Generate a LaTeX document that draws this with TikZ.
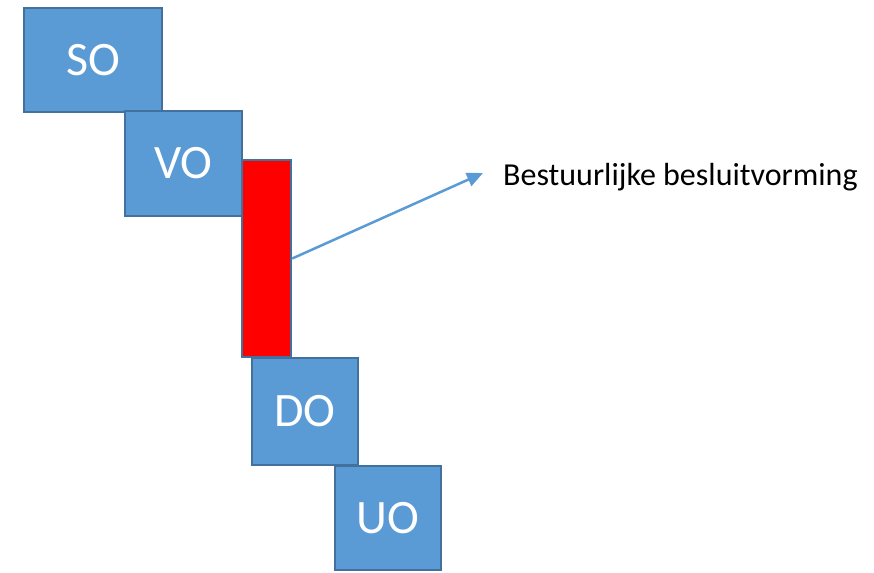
\documentclass[tikz,border=0pt]{standalone}
\usepackage{fontspec}
\setmainfont{Carlito}
\usepackage{xcolor}
\definecolor{orgBlue}{HTML}{5B9BD5}
\definecolor{orgEdge}{HTML}{41719C}
\definecolor{orgRed}{HTML}{FF0000}
\usetikzlibrary{arrows.meta}

\begin{document}
\begin{tikzpicture}[x=1pt, y=-1pt]
  \filldraw[fill=white, draw=none] (0,0) rectangle (874,572);
  \node[rectangle, draw=orgEdge, line width=2.5pt, fill=orgBlue, minimum width=138pt, minimum height=104pt, text=white, font=\fontsize{48}{54}\selectfont] (SO) at (93,60) {SO};
  \node[rectangle, draw=orgEdge, line width=2.5pt, fill=orgBlue, minimum width=117pt, minimum height=105pt, text=white, font=\fontsize{48}{54}\selectfont] (VO) at (183.5,163.5) {VO};
  \node[rectangle, draw=orgEdge, line width=2.5pt, fill=orgRed, minimum width=49pt, minimum height=197pt] (BB) at (266.5,258.5) {};
  \node[rectangle, draw=orgEdge, line width=2.5pt, fill=orgBlue, minimum width=106pt, minimum height=107pt, text=white, font=\fontsize{48}{54}\selectfont] (DO) at (305,411.5) {DO};
  \node[rectangle, draw=orgEdge, line width=2.5pt, fill=orgBlue, minimum width=106pt, minimum height=104pt, text=white, font=\fontsize{48}{54}\selectfont] (UO) at (388,518) {UO};
  \node[anchor=west, inner sep=0pt, font=\fontsize{32}{38}\selectfont] (label) at (503,177) {Bestuurlijke besluitvorming};
  \coordinate (tip) at (483,173);
  \draw[orgBlue, line width=2.5pt, -{Triangle[length=16pt, width=14pt]}] (BB.east) -- (tip);
\end{tikzpicture}
\end{document}
